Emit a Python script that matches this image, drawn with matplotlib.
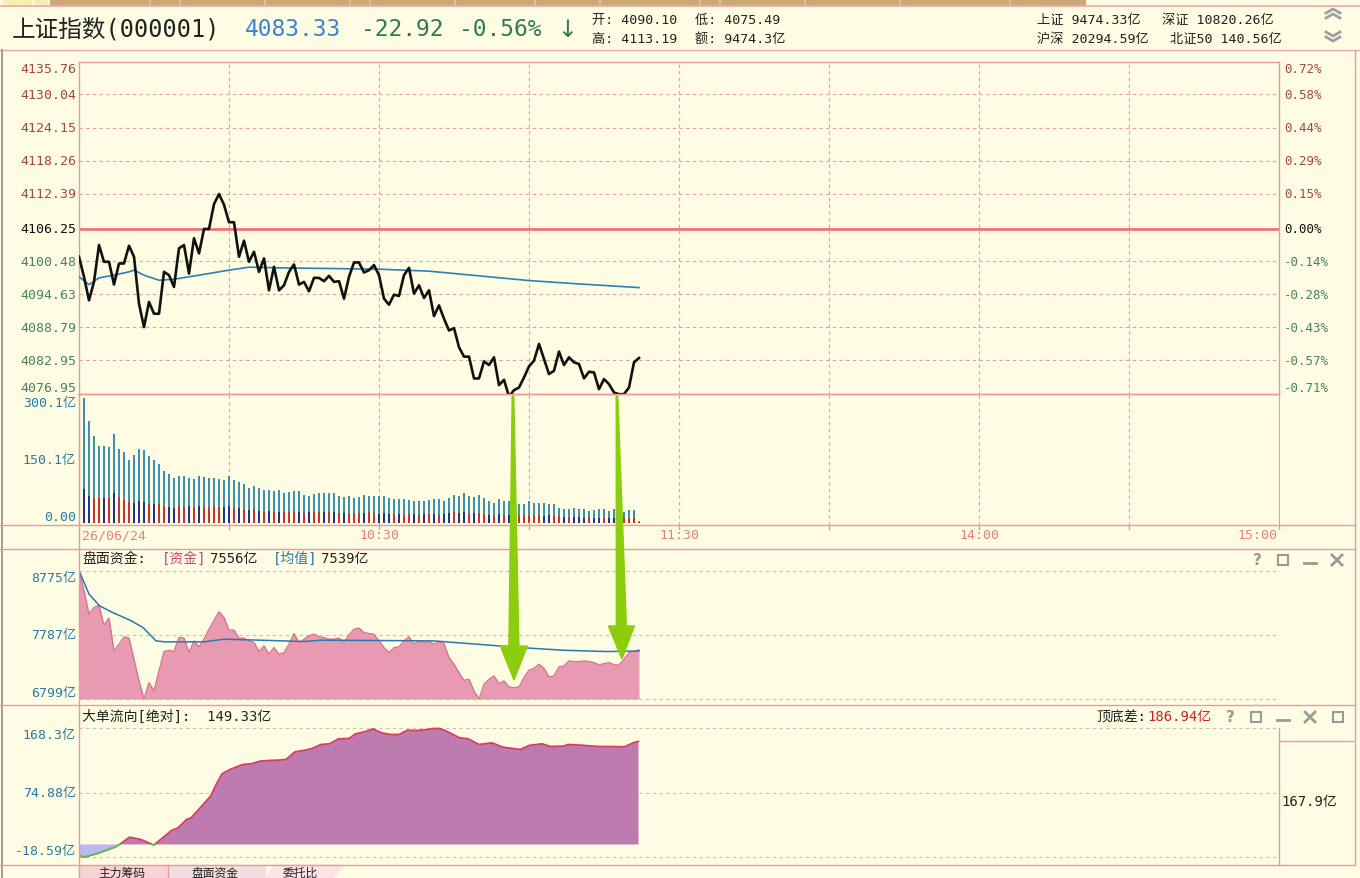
import numpy as np
import matplotlib
matplotlib.use("Agg")
import matplotlib.pyplot as plt
from matplotlib.patches import Polygon, Rectangle
from matplotlib.lines import Line2D
from matplotlib.transforms import blended_transform_factory

# monospace digits like the trading software, CJK glyphs from Noto
plt.rcParams['font.family'] = ['DejaVu Sans Mono', 'Noto Sans CJK SC']

# ---------------- data ----------------
# 1-minute index price from 9:30
price = [4101.26, 4097.70, 4093.54, 4096.81, 4103.34, 4100.37, 4100.37, 4096.33, 4100.07, 4100.07,
         4103.22, 4101.26, 4092.95, 4088.79, 4093.25, 4091.17, 4091.17, 4098.59, 4098.00, 4095.92,
         4102.75, 4103.34, 4098.29, 4104.53, 4101.86, 4106.19, 4106.19, 4110.58, 4112.37, 4110.47,
         4107.38, 4107.38, 4101.26, 4104.11, 4100.37, 4102.15, 4098.59, 4100.96, 4095.32, 4099.48,
         4095.32, 4096.21, 4098.59, 4099.90, 4096.33, 4096.81, 4095.15, 4097.52, 4097.52, 4096.93,
         4097.88, 4096.81, 4096.93, 4093.84, 4097.70, 4100.25, 4100.25, 4098.47, 4098.89, 4099.78,
         4098.00, 4093.84, 4092.77, 4094.55, 4094.31, 4098.00, 4099.30, 4094.73, 4096.21, 4093.96,
         4095.32, 4090.75, 4092.65, 4090.28, 4088.20, 4088.61, 4085.23, 4083.57, 4083.57, 4079.71,
         4079.71, 4082.73, 4082.08, 4083.45, 4078.52, 4079.47, 4076.50, 4077.63, 4078.10, 4079.88,
         4081.84, 4082.85, 4085.82, 4083.15, 4080.48, 4081.07, 4084.46, 4082.08, 4083.45, 4082.56,
         4082.26, 4079.71, 4080.89, 4080.77, 4077.81, 4079.59, 4078.70, 4077.21, 4076.92, 4076.92,
         4078.10, 4082.56, 4083.33]
pavg_min = [0, 2, 4, 7, 10, 11, 13, 16, 19, 24, 30, 34, 40, 50, 60, 70, 80, 90, 100, 112]
pavg_val = [4097.70, 4096.33, 4097.52, 4098.00, 4098.59, 4098.89, 4098.00, 4097.10, 4097.28, 4098.00,
            4098.89, 4099.42, 4099.30, 4099.18, 4099.06, 4098.71, 4097.88, 4097.04, 4096.45, 4095.80]
prev_close = 4106.25
price_ticks = [4135.76, 4130.04, 4124.15, 4118.26, 4112.39, 4106.25, 4100.48, 4094.63, 4088.79, 4082.95, 4076.95]
pct_labels = ['0.72%', '0.58%', '0.44%', '0.29%', '0.15%', '0.00%',
              '-0.14%', '-0.28%', '-0.43%', '-0.57%', '-0.71%']

# volume (亿) per minute, total and lower part
vol_total = [296, 242, 205, 182, 183, 180, 211, 176, 167, 149,
             160, 174, 172, 159, 150, 140, 123, 115, 106, 112,
             112, 106, 104, 112, 109, 107, 106, 104, 101, 112,
             102, 96, 91, 83, 88, 83, 79, 78, 75, 79,
             71, 73, 75, 75, 67, 65, 69, 71, 71, 71,
             71, 64, 62, 64, 60, 62, 66, 64, 64, 65,
             64, 60, 57, 56, 56, 54, 52, 52, 53, 54,
             56, 56, 52, 60, 67, 64, 70, 64, 62, 67,
             60, 52, 47, 56, 52, 52, 48, 44, 44, 52,
             48, 47, 47, 44, 46, 36, 34, 34, 36, 34,
             33, 29, 31, 33, 33, 29, 33, 23, 26, 31,
             31, 5]
vol_part = [81, 65, 60, 58, 58, 60, 72, 62, 55, 50,
            48, 52, 50, 46, 45, 44, 40, 38, 36, 40,
            38, 40, 38, 40, 39, 38, 40, 38, 37, 40,
            37, 36, 34, 30, 32, 28, 26, 28, 27, 26,
            25, 27, 28, 26, 24, 25, 26, 27, 26, 27,
            25, 24, 23, 22, 24, 23, 24, 25, 24, 22,
            23, 22, 21, 22, 20, 21, 22, 20, 21, 22,
            21, 20, 22, 24, 25, 24, 26, 22, 24, 23,
            22, 20, 19, 21, 20, 19, 18, 17, 18, 17,
            19, 18, 17, 18, 17, 16, 15, 14, 15, 14,
            13, 14, 13, 12, 13, 12, 13, 10, 11, 12,
            11, 3]
vol_ticks = [300.1, 150.1, 0]
vol_labels = ['300.1亿', '150.1亿', '0.00']

# 盘面资金 (亿)
fund = [8775, 8466, 8106, 8209, 8245, 7936, 8044, 7540, 7643, 7756,
        7736, 7411, 7077, 6799, 7051, 6922, 7231, 7530, 7550, 7530,
        7746, 7736, 7514, 7694, 7602, 7720, 7874, 8013, 8142, 8055,
        7859, 7859, 7736, 7736, 7694, 7669, 7530, 7617, 7489, 7591,
        7489, 7514, 7643, 7808, 7669, 7720, 7772, 7797, 7756, 7746,
        7720, 7720, 7736, 7669, 7787, 7874, 7890, 7823, 7808, 7797,
        7694, 7591, 7514, 7591, 7602, 7694, 7756, 7643, 7694, 7669,
        7684, 7643, 7684, 7653, 7437, 7334, 7206, 7087, 7103, 6922,
        6799, 7025, 7103, 7154, 7036, 7077, 6984, 6974, 6984, 7128,
        7242, 7272, 7334, 7272, 7139, 7154, 7293, 7308, 7386, 7375,
        7375, 7386, 7375, 7360, 7324, 7344, 7360, 7324, 7324, 7411,
        7514, 7530, 7556]
favg_min = [0, 2, 4.1, 6.7, 10.2, 12.8, 15.4, 17.2, 25, 28.9, 36.2, 44.9, 48.4, 70.9, 79.6, 88.3, 96.9, 105.6, 112]
favg_val = [8775, 8415, 8235, 8132, 8013, 7900, 7694, 7679, 7679, 7720, 7705, 7684, 7705, 7694, 7643, 7591, 7550, 7530, 7539]
fund_ticks = [8775, 7787, 6799]

# 大单流向 (亿)
big_min = [0, 1, 4.1, 7.2, 8.1, 10.1, 12.4, 15.0, 15.9, 18.5, 19.8, 21.5, 22.4, 24.1, 26.3, 27.6, 28.6, 30.2,
           32.8, 34.5, 36.2, 38.0, 39.7, 41.4, 43.2, 44.9, 46.6, 48.4, 50.1, 51.9, 54.0, 55.3, 57.1, 58.8,
           60.5, 62.3, 64.0, 65.7, 67.5, 69.2, 70.9, 72.2, 73.5, 76.1, 77.9, 80.0, 82.6, 84.8, 88.3, 90.0,
           92.6, 94.3, 96.9, 97.8, 100.4, 103.9, 105.6, 109.1, 110.8, 111.9]
big_val = [-15.4, -18.59, -12.1, -3.8, 0.0, 10.6, 7.3, -0.9, 4.8, 20.3, 24.2, 36.2, 38.6, 52.2, 70.0, 89.4, 102.4, 108.7,
           116.0, 117.0, 120.8, 121.7, 122.2, 123.2, 134.3, 136.2, 139.1, 144.9, 145.9, 153.1, 153.6, 160.4, 163.3, 167.6,
           161.8, 159.4, 159.4, 165.7, 165.2, 166.2, 168.1, 168.1, 164.2, 154.6, 153.1, 144.9, 147.3, 141.0, 137.7, 143.5,
           145.9, 142.0, 142.5, 144.9, 143.9, 142.0, 142.0, 141.5, 147.3, 149.33]
big_ticks = [168.3, 74.88, -18.59]
big_labels = ['168.3亿', '74.88亿', '-18.59亿']

time_pos = [0, 60, 120, 180, 240]
time_labels = ['26/06/24', '10:30', '11:30', '14:00', '15:00']

# ---------------- style ----------------
BG = '#fefde3'
PINK = '#e99a9a'
GRID = '#dba0a0'
GRAY_DASH = '#cdbdb0'
UPC = '#a44646'
DNC = '#4a8262'
TEAL = '#2a7aa8'
ICON = '#9a9a9a'

W, H = 1360, 879
fig = plt.figure(figsize=(W / 100, H / 100), dpi=100)
fig.patch.set_facecolor(BG)


def rect(x0, y0, x1, y1):
    return [x0 / W, 1 - y1 / H, (x1 - x0) / W, (y1 - y0) / H]


def fx(x):
    return x / W


def fy(y):
    return 1 - y / H


def hline(y, x0, x1, color=PINK, lw=1.0):
    fig.add_artist(Line2D([fx(x0), fx(x1)], [fy(y), fy(y)], color=color, lw=lw, transform=fig.transFigure))


def vline(x, y0, y1, color=PINK, lw=1.0):
    fig.add_artist(Line2D([fx(x), fx(x)], [fy(y0), fy(y1)], color=color, lw=lw, transform=fig.transFigure))


def ftext(x, y, s, **kw):
    kw.setdefault('va', 'center')
    kw.setdefault('fontsize', 10)
    fig.text(fx(x), fy(y), s, **kw)


def left_labels(ax, ticks, labels, colors, fs=9.5):
    tr = blended_transform_factory(ax.transAxes, ax.transData)
    n = len(ticks)
    for i, (v, s) in enumerate(zip(ticks, labels)):
        va = 'top' if i == 0 else ('bottom' if i == n - 1 else 'center')
        c = colors[i] if isinstance(colors, list) else colors
        ax.text(-0.0025, v, s, transform=tr, ha='right', va=va, fontsize=fs, color=c)


def icons(y, items):
    # little window buttons: ? box - x
    for x, kind in items:
        if kind == 'box':
            fig.add_artist(Rectangle((fx(x - 5), fy(y + 5)), 10 / W, 10 / H, fill=False, ec=ICON, lw=1.5,
                                     transform=fig.transFigure))
        elif kind == 'min':
            hline(y + 3, x - 6, x + 6, color=ICON, lw=2)
        elif kind == 'x':
            fig.add_artist(Line2D([fx(x - 5), fx(x + 5)], [fy(y - 5), fy(y + 5)], color=ICON, lw=2,
                                  transform=fig.transFigure))
            fig.add_artist(Line2D([fx(x - 5), fx(x + 5)], [fy(y + 5), fy(y - 5)], color=ICON, lw=2,
                                  transform=fig.transFigure))
        else:
            ftext(x, y, '?', ha='center', fontsize=11, color=ICON, fontweight='bold', family='DejaVu Sans')


# ---------------- top strip / header ----------------
fig.add_artist(Rectangle((fx(50), fy(6)), fx(1035), 6 / H, color='#c9a978', transform=fig.transFigure))
for xs in [3, 18, 34]:
    fig.add_artist(Rectangle((fx(xs), fy(6)), fx(13), 6 / H, color='#f6efb4', transform=fig.transFigure))
for xs in [150, 180, 265, 350, 370, 455, 535, 600, 700, 720, 805, 900, 1010]:
    vline(xs, 0, 6, color='#e2c898', lw=1.2)
hline(7, 0, W, color='#f0a8a8', lw=1.2)
hline(51, 0, W, color='#f0a8a8', lw=1.0)

ftext(12, 30, '上证指数(000001)', fontsize=17, color='#222222')
ftext(245, 30, '4083.33', fontsize=16.5, color='#3b82d0')
ftext(361, 30, '-22.92', fontsize=16.5, color='#2e7a54')
ftext(459, 30, '-0.56%', fontsize=16.5, color='#2e7a54')
ftext(557, 30, '↓', fontsize=17, color='#2e7a54', family='DejaVu Sans')
ftext(592, 20, '开: 4090.10', fontsize=9.5, color='#222222')
ftext(592, 39, '高: 4113.19', fontsize=9.5, color='#222222')
ftext(695, 20, '低: 4075.49', fontsize=9.5, color='#222222')
ftext(695, 39, '额: 9474.3亿', fontsize=9.5, color='#222222')
ftext(1037, 20, '上证 9474.33亿', fontsize=9.5, color='#222222')
ftext(1162, 20, '深证 10820.26亿', fontsize=9.5, color='#222222')
ftext(1037, 39, '沪深 20294.59亿', fontsize=9.5, color='#222222')
ftext(1170, 39, '北证50 140.56亿', fontsize=9.5, color='#222222')
for yy, d in [(14, -1), (19, -1), (33, 1), (38, 1)]:
    fig.add_artist(Line2D([fx(1326), fx(1333), fx(1340)], [fy(yy), fy(yy + 4 * d), fy(yy)],
                          color='#9aa0a8', lw=2, transform=fig.transFigure))

# frame lines
vline(2, 51, H, color='#8e8e8e', lw=1.2)
vline(1355, 51, 866, color=PINK)
vline(79, 395, H, color=PINK)
hline(395, 79, 1279)
hline(526, 0, 1355)
hline(550, 0, 1355)
hline(706, 0, 1355)
hline(866, 0, 1355)

# ---------------- price panel ----------------
axp = fig.add_axes(rect(79, 63, 1279, 395))
axp.set_facecolor(BG)
axp.set_xlim(0, 240)
axp.set_ylim(price_ticks[-1], price_ticks[0])
axp.set_xticks([])
axp.set_yticks([])
for s in axp.spines.values():
    s.set_color(PINK)
    s.set_linewidth(1.0)
for v in price_ticks[1:-1]:
    if v == prev_close:
        continue
    axp.axhline(v, color=GRID, lw=0.8, ls=(0, (3, 3)), zorder=1)
for m in range(30, 240, 30):
    axp.axvline(m, color=GRID, lw=0.8, ls=(0, (3, 3)), zorder=1)
axp.axhline(prev_close, color='#f07676', lw=2, zorder=2)
axp.plot(pavg_min, pavg_val, color='#2b80b6', lw=1.2, zorder=3)
axp.plot(np.arange(len(price)), price, color='#111111', lw=1.9, zorder=4)
lab_cols = [UPC] * 5 + ['#111111'] + [DNC] * 5
left_labels(axp, price_ticks, [f'{v:.2f}' for v in price_ticks], lab_cols)
tr = blended_transform_factory(axp.transAxes, axp.transData)
for i, (v, s) in enumerate(zip(price_ticks, pct_labels)):
    va = 'top' if i == 0 else ('bottom' if i == len(price_ticks) - 1 else 'center')
    axp.text(1.004, v, s, transform=tr, ha='left', va=va, fontsize=9, color=lab_cols[i])

# ---------------- volume panel ----------------
axv = fig.add_axes(rect(79, 396, 1279, 526))
axv.patch.set_visible(False)
axv.set_xlim(0, 240)
axv.set_ylim(-300.1 * 2 / 128, 300.1 * 129 / 128)
axv.set_xticks([])
axv.set_yticks([])
for k in ['top', 'bottom']:
    axv.spines[k].set_visible(False)
for k in ['left', 'right']:
    axv.spines[k].set_color(PINK)
for m in range(30, 240, 30):
    axv.axvline(m, color=GRID, lw=0.8, ls=(0, (3, 3)), zorder=1)
vm = np.arange(1, len(vol_total) + 1)
axv.vlines(vm, 0, vol_total, color='#2a86ac', lw=1.3, zorder=2)
pcols = ['#d22a2a' if price[i] >= price[i - 1] else '#1c2a86' for i in vm]
axv.vlines(vm, 0, vol_part, colors=pcols, lw=1.3, zorder=3)
left_labels(axv, vol_ticks, vol_labels, TEAL)
trx = blended_transform_factory(axv.transData, axv.transAxes)
for m, s in zip(time_pos, time_labels):
    ha = 'left' if m == 0 else ('right' if m == 240 else 'center')
    off = 0.6 if m == 0 else (-0.4 if m == 240 else 0)
    axv.text(m + off, -0.075, s, transform=trx, ha=ha, va='center', fontsize=9.5, color='#e38080',
             clip_on=False)
for m in range(30, 241, 30):
    vline(79 + 5 * m, 526, 530)

# ---------------- 盘面资金 panel ----------------
axf = fig.add_axes(rect(79, 551, 1279, 705))
axf.set_facecolor('none')
axf.set_xlim(0, 240)
axf.set_ylim(6722, 9094)
axf.set_xticks([])
axf.set_yticks([])
for s in axf.spines.values():
    s.set_visible(False)
for v in fund_ticks:
    axf.axhline(v, color=GRAY_DASH, lw=0.8, ls=(0, (3, 3)), zorder=1)
fm = np.arange(len(fund))
axf.fill_between(fm, fund, fund_ticks[-1], color='#e89ab2', lw=0, zorder=2)
axf.plot(fm, fund, color='#d9738f', lw=1.0, zorder=3)
axf.plot(favg_min, favg_val, color='#2a78b0', lw=1.1, zorder=4)
left_labels(axf, fund_ticks, [f'{v}亿' for v in fund_ticks], TEAL)

ftext(82, 559, '盘面资金:', color='#222222')
ftext(162, 559, '[资金]', color='#c84a6e')
ftext(210, 559, '7556亿', color='#222222')
ftext(273, 559, '[均值]', color='#2a78a8')
ftext(321, 559, '7539亿', color='#222222')
icons(561, [(1257, 'q'), (1283, 'box'), (1310, 'min'), (1337, 'x')])

# ---------------- 大单流向 panel ----------------
axb = fig.add_axes(rect(79, 707, 1279, 865))
axb.set_facecolor('none')
axb.set_xlim(0, 240)
axb.set_ylim(-28.3, 200.6)
axb.set_xticks([])
axb.set_yticks([])
for s in axb.spines.values():
    s.set_visible(False)
for v in big_ticks:
    axb.axhline(v, color=GRAY_DASH, lw=0.8, ls=(0, (3, 3)), zorder=1)
bm = np.array(big_min)
bv = np.array(big_val)
axb.fill_between(bm, bv, 0, where=bv >= 0, interpolate=True, color='#bd7bb0', lw=0, zorder=2)
axb.fill_between(bm, bv, 0, where=bv <= 0, interpolate=True, color='#b9b9f0', lw=0, zorder=2)
axb.plot(bm, bv, color='#d83c5c', lw=1.2, zorder=3)
neg = axb.plot(bm, bv, color='#5cc45c', lw=1.2, zorder=4)[0]
clip = Rectangle((0, -100), 240, 100, transform=axb.transData)
neg.set_clip_path(clip)
left_labels(axb, big_ticks, big_labels, TEAL)
vline(1279, 729, 866)
hline(742, 1279, 1353)
ftext(1281, 802, '167.9亿', color='#222222')

ftext(82, 717, '大单流向[绝对]:  149.33亿', color='#222222')
ftext(1096, 717, '顶底差:', color='#222222')
ftext(1147, 717, '186.94亿', color='#c42626')
icons(718, [(1230, 'q'), (1256, 'box'), (1283, 'min'), (1310, 'x'), (1338, 'box')])

# bottom tabs
fig.add_artist(Rectangle((fx(79), 0), fx(89), 13 / H, color='#f7d4d4', transform=fig.transFigure))
fig.add_artist(Rectangle((fx(168), 0), fx(97), 13 / H, color='#f2dede', transform=fig.transFigure))
fig.add_artist(Polygon([(fx(265), 0), (fx(275), fy(866)), (fx(345), fy(866)), (fx(333), 0)],
                       closed=True, color='#fbe4e4', transform=fig.transFigure))
vline(168, 866, H)
ftext(122, 873, '主力筹码', ha='center', fontsize=8.5, color='#222222')
ftext(215, 873, '盘面资金', ha='center', fontsize=8.5, color='#222222')
ftext(300, 873, '委托比', ha='center', fontsize=8.5, color='#222222')


# ---------------- green annotation arrows ----------------
def green_arrow(x_top, y_top, x_tip, y_tip, head_y, head_w=27, shaft_w=10):
    xc = x_top + (x_tip - x_top) * (head_y - y_top) / (y_tip - y_top)
    pts = [(x_top - 0.8, y_top), (x_top + 0.8, y_top), (xc + shaft_w / 2, head_y),
           (xc + head_w / 2, head_y), (x_tip, y_tip), (xc - head_w / 2, head_y),
           (xc - shaft_w / 2, head_y)]
    fig.add_artist(Polygon([(fx(a), fy(b)) for a, b in pts], closed=True, color='#8ccd0e',
                           transform=fig.transFigure, zorder=20))


green_arrow(513, 397, 514, 681, 647)
green_arrow(617, 397, 622, 660, 627, head_w=26)

fig.savefig('out.png', dpi=100, facecolor=BG)
